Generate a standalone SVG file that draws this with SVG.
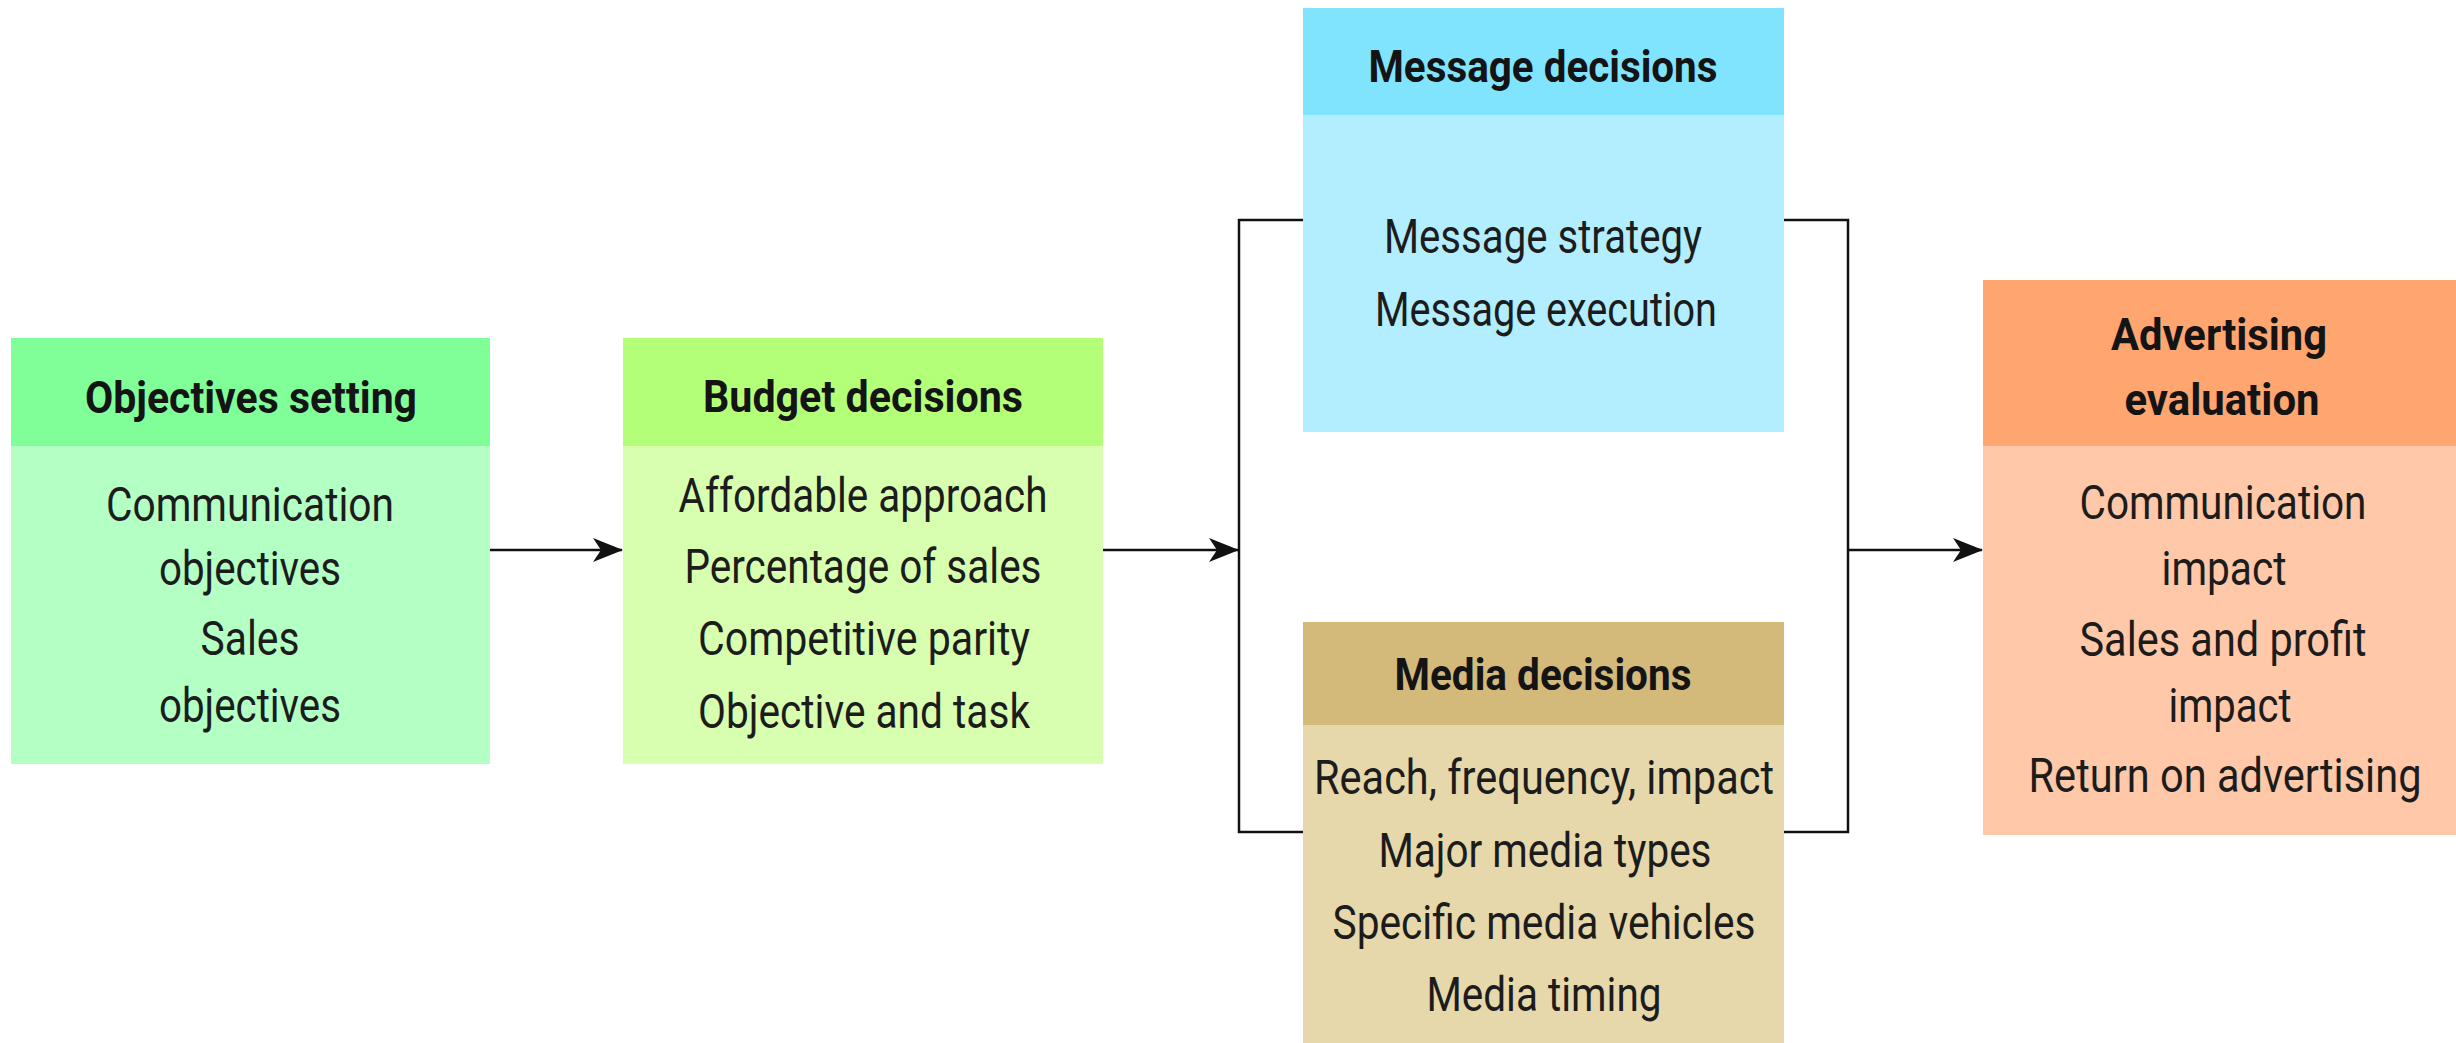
<svg xmlns="http://www.w3.org/2000/svg" width="2456" height="1043" viewBox="0 0 2456 1043">
<defs>
<style>
.t{font-family:Roboto,"Liberation Sans",sans-serif;font-weight:700;font-size:44px;fill:#141414;text-anchor:middle}
.b{font-family:Roboto,"Liberation Sans",sans-serif;font-weight:400;font-size:49px;fill:#1c1c1c;text-anchor:middle}
.ln{fill:none;stroke:#111;stroke-width:2.5}
</style>
<marker id="ah" viewBox="0 0 30 24" refX="29" refY="12" markerWidth="30" markerHeight="24" markerUnits="userSpaceOnUse" orient="auto">
<path d="M0,0 L30,12 L0,24 L8,12 Z" fill="#111"/>
</marker>
</defs>
<rect width="2456" height="1043" fill="#fff"/>

<g id="objectives">
<rect x="11" y="338" width="479" height="426" fill="#b3ffc4"/>
<rect x="11" y="338" width="479" height="108" fill="#80ff99"/>
<text class="t" x="251" y="413" textLength="332" lengthAdjust="spacingAndGlyphs">Objectives setting</text>
<text class="b" x="250" y="521" textLength="288" lengthAdjust="spacingAndGlyphs">Communication</text>
<text class="b" x="250" y="585" textLength="182" lengthAdjust="spacingAndGlyphs">objectives</text>
<text class="b" x="250" y="655" textLength="99" lengthAdjust="spacingAndGlyphs">Sales</text>
<text class="b" x="250" y="722" textLength="182" lengthAdjust="spacingAndGlyphs">objectives</text>
</g>

<g id="budget">
<rect x="623" y="338" width="480" height="426" fill="#d7ffaf"/>
<rect x="623" y="338" width="480" height="108" fill="#b4ff78"/>
<text class="t" x="863" y="412" textLength="320" lengthAdjust="spacingAndGlyphs">Budget decisions</text>
<text class="b" x="863" y="512" textLength="369" lengthAdjust="spacingAndGlyphs">Affordable approach</text>
<text class="b" x="863" y="583" textLength="357" lengthAdjust="spacingAndGlyphs">Percentage of sales</text>
<text class="b" x="864" y="655" textLength="332" lengthAdjust="spacingAndGlyphs">Competitive parity</text>
<text class="b" x="864" y="728" textLength="332" lengthAdjust="spacingAndGlyphs">Objective and task</text>
</g>

<g id="message">
<rect x="1303" y="8" width="481" height="424" fill="#b2eeff"/>
<rect x="1303" y="8" width="481" height="107" fill="#80e4ff"/>
<text class="t" x="1543" y="82" textLength="349" lengthAdjust="spacingAndGlyphs">Message decisions</text>
<text class="b" x="1543" y="253" textLength="318" lengthAdjust="spacingAndGlyphs">Message strategy</text>
<text class="b" x="1546" y="326" textLength="342" lengthAdjust="spacingAndGlyphs">Message execution</text>
</g>

<g id="media">
<rect x="1303" y="622" width="481" height="421" fill="#e6d8aa"/>
<rect x="1303" y="622" width="481" height="103" fill="#d4ba7a"/>
<text class="t" x="1543" y="690" textLength="297" lengthAdjust="spacingAndGlyphs">Media decisions</text>
<text class="b" x="1544" y="794" textLength="460" lengthAdjust="spacingAndGlyphs">Reach, frequency, impact</text>
<text class="b" x="1545" y="867" textLength="333" lengthAdjust="spacingAndGlyphs">Major media types</text>
<text class="b" x="1544" y="939" textLength="423" lengthAdjust="spacingAndGlyphs">Specific media vehicles</text>
<text class="b" x="1544" y="1011" textLength="235" lengthAdjust="spacingAndGlyphs">Media timing</text>
</g>

<g id="evaluation">
<rect x="1983" y="280" width="473" height="555" fill="#ffc8a8"/>
<rect x="1983" y="280" width="473" height="166" fill="#ffa570"/>
<text class="t" x="2219" y="350" textLength="216" lengthAdjust="spacingAndGlyphs">Advertising</text>
<text class="t" x="2222" y="415" textLength="195" lengthAdjust="spacingAndGlyphs">evaluation</text>
<text class="b" x="2223" y="519" textLength="287" lengthAdjust="spacingAndGlyphs">Communication</text>
<text class="b" x="2224" y="585" textLength="125" lengthAdjust="spacingAndGlyphs">impact</text>
<text class="b" x="2223" y="656" textLength="287" lengthAdjust="spacingAndGlyphs">Sales and profit</text>
<text class="b" x="2230" y="722" textLength="123" lengthAdjust="spacingAndGlyphs">impact</text>
<text class="b" x="2225" y="792" textLength="393" lengthAdjust="spacingAndGlyphs">Return on advertising</text>
</g>

<g id="connectors">
<line class="ln" x1="490" y1="550" x2="622" y2="550" marker-end="url(#ah)"/>
<line class="ln" x1="1103" y1="550" x2="1238" y2="550" marker-end="url(#ah)"/>
<polyline class="ln" points="1303,220 1239,220 1239,832 1303,832"/>
<polyline class="ln" points="1784,220 1848,220 1848,832 1784,832"/>
<line class="ln" x1="1848" y1="550" x2="1982" y2="550" marker-end="url(#ah)"/>
</g>
</svg>
